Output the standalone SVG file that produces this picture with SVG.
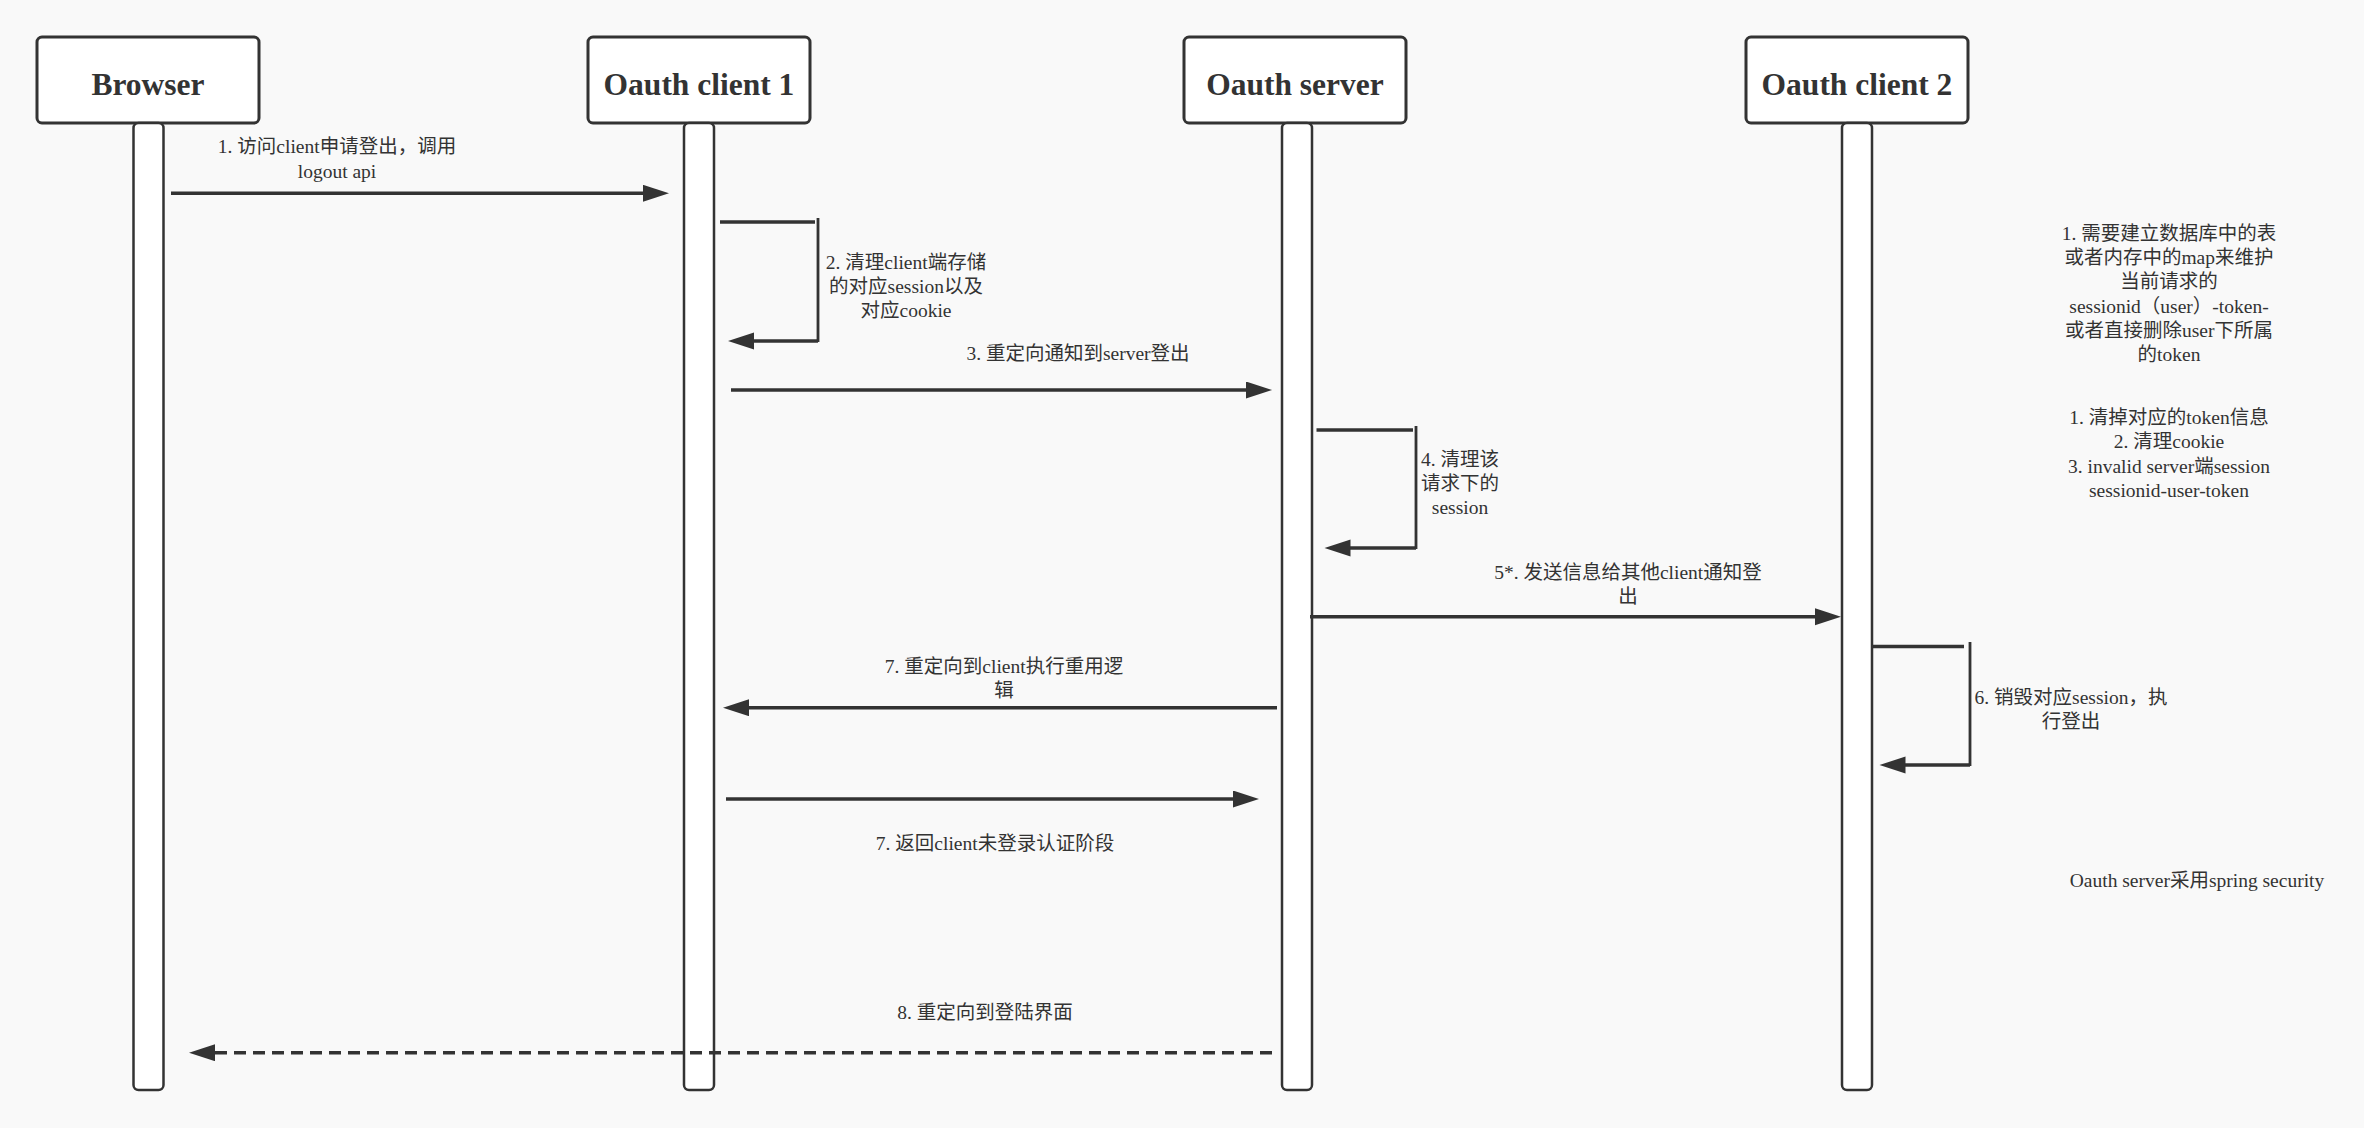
<svg xmlns="http://www.w3.org/2000/svg" width="2364" height="1128" viewBox="0 0 2364 1128">
<style>
.bg{fill:#f9f9f9}
.head{fill:#ffffff;stroke:#333333;stroke-width:3}
.bar{fill:#ffffff;stroke:#333333;stroke-width:2.5}
.title{font-family:"Liberation Serif","Noto Sans CJK SC",serif;font-weight:bold;font-size:31.5px;fill:#333333;text-anchor:middle}
.lbl{font-family:"Liberation Serif","Noto Sans CJK SC",serif;font-size:19.5px;fill:#333333;text-anchor:middle}
.msg{fill:none;stroke:#333333;stroke-width:3.5;marker-end:url(#ah)}
.seg{fill:none;stroke:#333333;stroke-width:3.5}
.vseg{fill:none;stroke:#333333;stroke-width:2.8}
.dash{stroke-dasharray:12 7}
</style>
<defs>
<marker id="ah" markerUnits="userSpaceOnUse" markerWidth="27" markerHeight="18" refX="16" refY="8.5" orient="auto">
<path d="M0,0 L26,8.5 L0,17 z" fill="#333333"/>
</marker>
</defs>
<rect class="bg" x="0" y="0" width="2364" height="1128"/>

<g id="browser">
<rect class="head" x="37" y="37" width="222" height="86" rx="5"/>
<text class="title" x="148" y="95">Browser</text>
<rect class="bar" x="133.5" y="123" width="30" height="967" rx="5"/>
</g>
<g id="client1">
<rect class="head" x="588" y="37" width="222" height="86" rx="5"/>
<text class="title" x="699" y="95">Oauth client 1</text>
<rect class="bar" x="684" y="123" width="30" height="967" rx="5"/>
</g>
<g id="server">
<rect class="head" x="1184" y="37" width="222" height="86" rx="5"/>
<text class="title" x="1295" y="95">Oauth server</text>
<rect class="bar" x="1282" y="123" width="30" height="967" rx="5"/>
</g>
<g id="client2">
<rect class="head" x="1746" y="37" width="222" height="86" rx="5"/>
<text class="title" x="1857" y="95">Oauth client 2</text>
<rect class="bar" x="1842" y="123" width="30" height="967" rx="5"/>
</g>

<g id="connectors">
<line class="msg" x1="171" y1="193.3" x2="659" y2="193.3"/>
<g id="self-2">
<line class="seg" x1="720" y1="222" x2="815" y2="222"/>
<line class="vseg" x1="818" y1="218" x2="818" y2="342"/>
<line class="msg" x1="818" y1="341" x2="738" y2="341"/>
</g>
<line class="msg" x1="731" y1="390" x2="1262" y2="390"/>
<g id="self-4">
<line class="seg" x1="1316.5" y1="430" x2="1413" y2="430"/>
<line class="vseg" x1="1416" y1="426" x2="1416" y2="549"/>
<line class="msg" x1="1416" y1="548" x2="1334.5" y2="548"/>
</g>
<line class="msg" x1="1310" y1="616.7" x2="1831" y2="616.7"/>
<g id="self-6">
<line class="seg" x1="1872" y1="646.5" x2="1964" y2="646.5"/>
<line class="vseg" x1="1970" y1="642" x2="1970" y2="766"/>
<line class="msg" x1="1970" y1="765" x2="1889.5" y2="765"/>
</g>
<line class="msg" x1="1277" y1="707.7" x2="733" y2="707.7"/>
<line class="msg" x1="726" y1="799" x2="1249" y2="799"/>
<line class="msg dash" x1="1272" y1="1052.7" x2="199" y2="1052.7"/>
</g>

<g id="labels">
<text class="lbl" x="337" y="153">1. 访问client申请登出，调用</text>
<text class="lbl" x="337" y="178">logout api</text>
<text class="lbl" x="906" y="268.5">2. 清理client端存储</text>
<text class="lbl" x="906" y="292.5">的对应session以及</text>
<text class="lbl" x="906" y="316.5">对应cookie</text>
<text class="lbl" x="1078" y="360">3. 重定向通知到server登出</text>
<text class="lbl" x="1460" y="466">4. 清理该</text>
<text class="lbl" x="1460" y="490">请求下的</text>
<text class="lbl" x="1460" y="514">session</text>
<text class="lbl" x="1628" y="578.5">5*. 发送信息给其他client通知登</text>
<text class="lbl" x="1628" y="602.5">出</text>
<text class="lbl" x="2071" y="703.5">6. 销毁对应session，执</text>
<text class="lbl" x="2071" y="727.5">行登出</text>
<text class="lbl" x="1004" y="673">7. 重定向到client执行重用逻</text>
<text class="lbl" x="1004" y="697">辑</text>
<text class="lbl" x="995" y="849.5">7. 返回client未登录认证阶段</text>
<text class="lbl" x="985" y="1018.5">8. 重定向到登陆界面</text>
</g>

<g id="note-token">
<text class="lbl" x="2169" y="240">1. 需要建立数据库中的表</text>
<text class="lbl" x="2169" y="264">或者内存中的map来维护</text>
<text class="lbl" x="2169" y="288">当前请求的</text>
<text class="lbl" x="2169" y="312.5">sessionid（user）-token-</text>
<text class="lbl" x="2169" y="336.5">或者直接删除user下所属</text>
<text class="lbl" x="2169" y="361">的token</text>
</g>
<g id="note-clear">
<text class="lbl" x="2169" y="423.5">1. 清掉对应的token信息</text>
<text class="lbl" x="2169" y="448">2. 清理cookie</text>
<text class="lbl" x="2169" y="472.5">3. invalid server端session</text>
<text class="lbl" x="2169" y="497">sessionid-user-token</text>
</g>
<g id="note-spring">
<text class="lbl" x="2197" y="887">Oauth server采用spring security</text>
</g>
</svg>
